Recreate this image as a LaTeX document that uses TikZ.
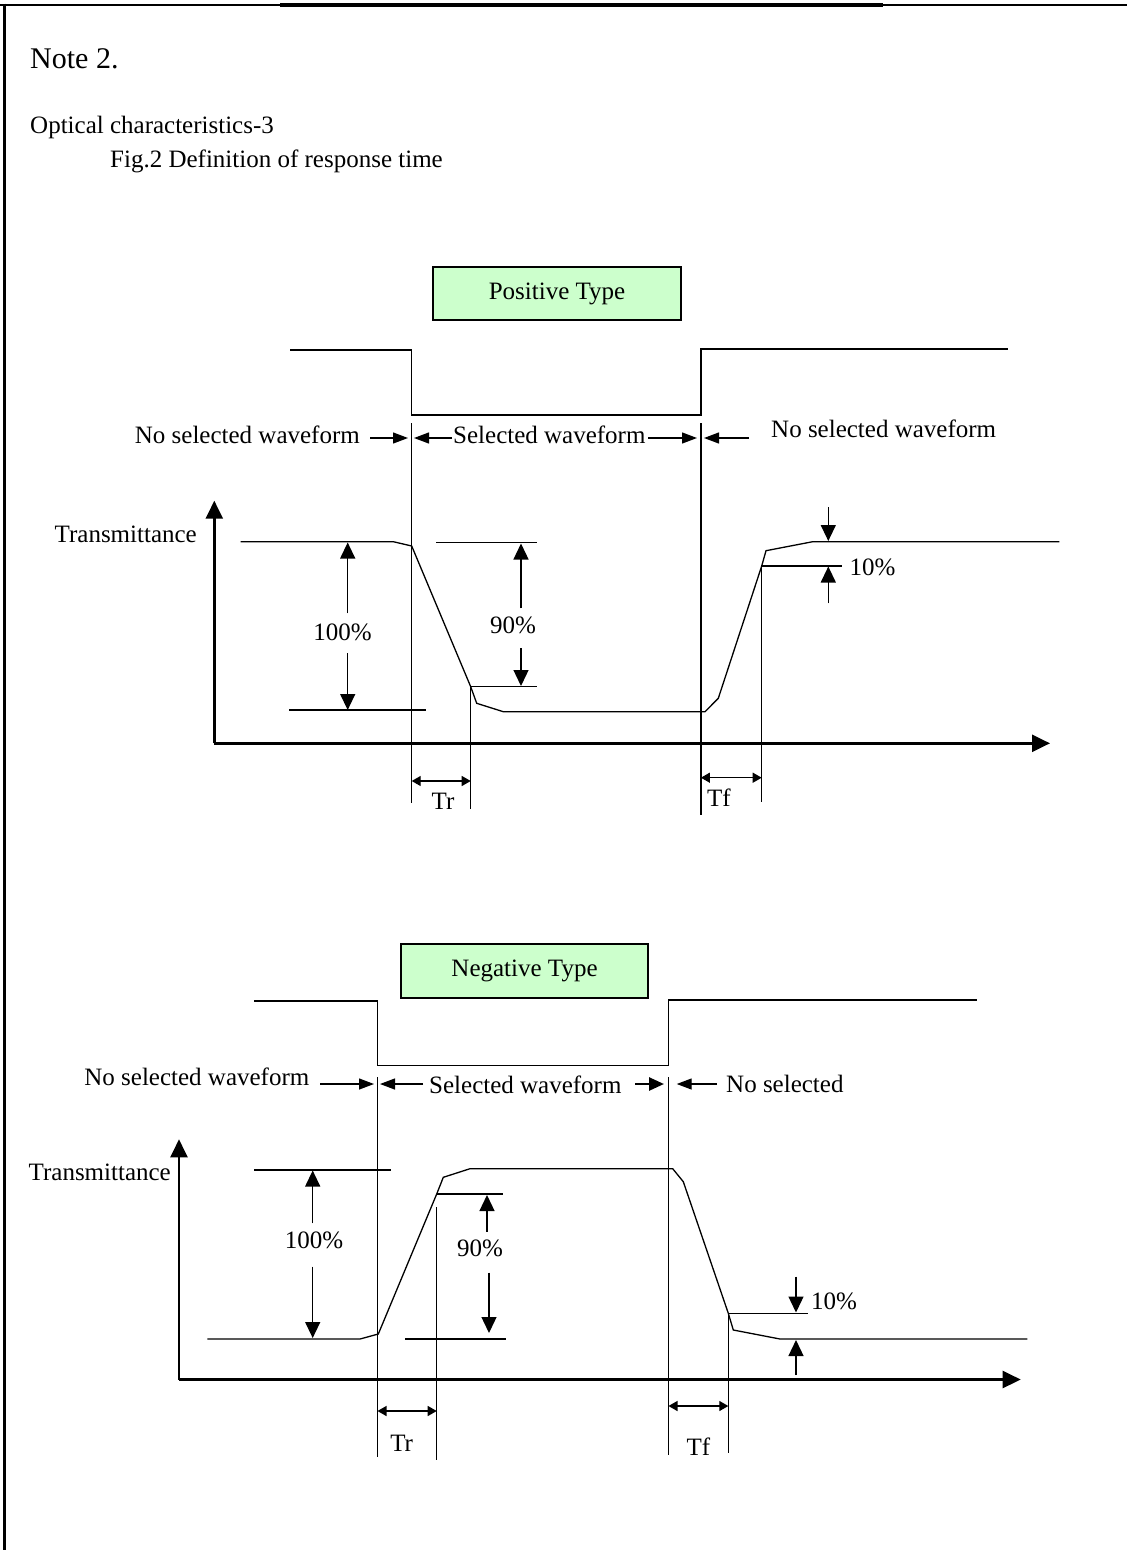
\documentclass[tikz,border=0pt]{standalone}
\usepackage{fontspec}
\setmainfont{Liberation Serif}
\usetikzlibrary{arrows.meta}
\definecolor{boxgreen}{HTML}{CCFFCC}
\begin{document}
\begin{tikzpicture}[x=1pt,y=-1pt,
  thinline/.style={line width=1.3pt},
  axisline/.style={line width=2.4pt,-{Triangle[length=18pt,width=17pt]}},
  dimarrow/.style={line width=1.3pt,-{Triangle[length=16pt,width=15pt]}},
  lblarrow/.style={line width=1.3pt,-{Triangle[length=15pt,width=11pt]}},
  boldlblarrow/.style={line width=2.6pt,-{Triangle[length=15pt,width=13pt]}},
  timearrow/.style={line width=1.3pt,{Triangle[length=9pt,width=10pt]}-{Triangle[length=9pt,width=10pt]}},
  typebox/.style={draw,line width=2.4pt,fill=boxgreen,inner sep=0pt,font=\fontsize{25}{30}\selectfont},
  lbl/.style={inner sep=0pt,font=\fontsize{25}{30}\selectfont},
  bigLbl/.style={inner sep=0pt,font=\fontsize{30}{36}\selectfont},
]
\path[use as bounding box] (0,0) rectangle (1127,1550);
% page frame
\draw[line width=2.6pt] (0,5) -- (1127,5);
\draw[line width=3.4pt] (280,5) -- (883,5);
\draw[line width=3pt] (4.5,3.5) -- (4.5,1550);

% header
\node[bigLbl,anchor=base west] (note) at (30,68) {Note 2.};
\node[lbl,anchor=base west] (optic) at (30,133) {Optical characteristics-3};
\node[lbl,anchor=base west] (fig) at (110,167) {Fig.2 Definition of response time};

% ================= Positive type =================
\node[typebox,minimum width=248pt,minimum height=53pt] (pbox) at (557,293.5) {Positive Type};

% select signal
\coordinate (ps1) at (290,350);
\coordinate (ps2) at (411.7,350);
\coordinate (ps3) at (411.7,415);
\coordinate (ps4) at (700.9,415);
\coordinate (ps5) at (700.9,349);
\coordinate (ps6) at (1008,349);
\draw[thinline] (ps1) -- (ps2) -- (ps3) -- (ps4) -- (ps5) -- (ps6);

% labels row
\node[lbl,anchor=base east] (pnl) at (360,443) {No selected waveform};
\node[lbl,anchor=base west] (psel) at (453,443) {Selected waveform};
\node[lbl,anchor=base west] (pnr) at (771,437) {No selected waveform};
\coordinate (pa1) at (370,438);   \coordinate (pa1t) at (408,438);
\coordinate (pa2) at (452,438);   \coordinate (pa2t) at (414,438);
\coordinate (pa3) at (648,438);   \coordinate (pa3t) at (697,438);
\coordinate (pa4) at (749,438);   \coordinate (pa4t) at (704,438);
\draw[lblarrow] (pa1) -- (pa1t);
\draw[lblarrow] (pa2) -- (pa2t);
\draw[lblarrow] (pa3) -- (pa3t);
\draw[lblarrow] (pa4) -- (pa4t);

% vertical guides
\coordinate (pv1a) at (411.7,423); \coordinate (pv1b) at (411.7,803);
\coordinate (pv2a) at (470.7,686.7); \coordinate (pv2b) at (470.7,809);
\coordinate (pv3a) at (700.9,423); \coordinate (pv3b) at (700.9,815);
\coordinate (pv4a) at (761.7,566); \coordinate (pv4b) at (761.7,802);
\draw[thinline] (pv1a) -- (pv1b);
\draw[thinline] (pv2a) -- (pv2b);
\draw[thinline] (pv3a) -- (pv3b);
\draw[thinline] (pv4a) -- (pv4b);

% axes
\coordinate (porig) at (214.3,743.3);
\coordinate (pytip) at (214.3,500.7);
\coordinate (pxtip) at (1050,743.3);
\draw[axisline] (porig) -- (pytip);
\draw[axisline] (porig) -- (pxtip);
\node[lbl,anchor=base east] (ptrans) at (197,542) {Transmittance};

% response curve
\draw[thinline] (240.7,541.7) -- (393.3,541.7) -- (411.7,546) -- (pv2a) -- (476.7,703.3)
  -- (503.3,711.7) -- (705,711.7) -- (718.3,698.3) -- (pv4a) -- (766,550.7)
  -- (812.7,541.7) -- (1059.3,541.7);

% dimension lines
\coordinate (pd1a) at (289.3,710); \coordinate (pd1b) at (425.7,710);
\coordinate (pd2a) at (436,542.7); \coordinate (pd2b) at (536.7,542.7);
\coordinate (pd3b) at (536.7,686.7);
\coordinate (pd4b) at (841.7,566);
\draw[thinline] (pd1a) -- (pd1b);
\draw[thinline] (pd2a) -- (pd2b);
\draw[thinline] (pv2a) -- (pd3b);
\draw[thinline] (pv4a) -- (pd4b);

% 100%
\node[lbl] (p100) at (342.5,632) {100\%};
\draw[dimarrow] (347.7,613.3) -- (347.7,542.5);
\draw[dimarrow] (347.7,653.3) -- (347.7,710);
% 90%
\node[lbl] (p90) at (513,625) {90\%};
\draw[dimarrow] (521,608.3) -- (521,543.5);
\draw[dimarrow] (521,648.3) -- (521,686);
% 10%
\node[lbl] (p10) at (872.5,567) {10\%};
\draw[dimarrow] (828.3,507.3) -- (828.3,541);
\draw[dimarrow] (828.3,603.3) -- (828.3,566.5);

% Tr / Tf
\draw[timearrow] (411.7,781) -- (470.7,781);
\node[lbl] (ptr) at (443,801.5) {Tr};
\draw[timearrow] (700.9,777.7) -- (761.7,777.7);
\node[lbl] (ptf) at (719,798) {Tf};

% ================= Negative type =================
\node[typebox,minimum width=247pt,minimum height=54pt] (nbox) at (524.5,971) {Negative Type};

\coordinate (ns1) at (254,1001);
\coordinate (ns2) at (377.5,1001);
\coordinate (ns3) at (377.5,1065.7);
\coordinate (ns4) at (668.5,1065.7);
\coordinate (ns5) at (668.5,1000);
\coordinate (ns6) at (976.7,1000);
\draw[thinline] (ns1) -- (ns2) -- (ns3) -- (ns4) -- (ns5) -- (ns6);

\node[lbl,anchor=base east] (nnl) at (309.5,1085) {No selected waveform};
\node[lbl,anchor=base west] (nsel) at (429,1093) {Selected waveform};
\node[lbl,anchor=base west] (nnr) at (726,1092) {No selected};
\coordinate (na1) at (320,1084);  \coordinate (na1t) at (374,1084);
\coordinate (na2) at (423,1084);  \coordinate (na2t) at (380,1084);
\coordinate (na3) at (635,1084);  \coordinate (na3t) at (664,1084);
\coordinate (na4) at (717,1084);  \coordinate (na4t) at (676.7,1084);
\draw[lblarrow] (na1) -- (na1t);
\draw[lblarrow] (na2) -- (na2t);
\draw[boldlblarrow] (na3) -- (na3t);
\draw[lblarrow] (na4) -- (na4t);

\coordinate (nv1a) at (377.5,1077); \coordinate (nv1b) at (377.5,1457);
\coordinate (nv2a) at (436.7,1207); \coordinate (nv2b) at (436.7,1460);
\coordinate (nv3a) at (668.5,1077); \coordinate (nv3b) at (668.5,1455);
\coordinate (nv4a) at (728.3,1313.3); \coordinate (nv4b) at (728.3,1453);
\draw[thinline] (nv1a) -- (nv1b);
\draw[thinline] (nv2a) -- (nv2b);
\draw[thinline] (nv3a) -- (nv3b);
\draw[thinline] (nv4a) -- (nv4b);

\coordinate (norig) at (179,1379.5);
\coordinate (nytip) at (179,1139.3);
\coordinate (nxtip) at (1020.7,1379.5);
\draw[axisline] (norig) -- (nytip);
\draw[axisline] (norig) -- (nxtip);
\node[lbl,anchor=base east] (ntrans) at (171,1180) {Transmittance};

\coordinate (nk90) at (436.7,1194);
\draw[thinline] (207.3,1339) -- (360,1339) -- (378.3,1334) -- (nk90) -- (443.3,1177.3)
  -- (470,1168.7) -- (672.7,1168.7) -- (683.3,1181.7) -- (nv4a) -- (733.3,1330)
  -- (780,1339) -- (1027.3,1339);

\coordinate (nd1a) at (254,1170); \coordinate (nd1b) at (391,1170);
\coordinate (nd2b) at (502.7,1194);
\coordinate (nd3a) at (405,1339); \coordinate (nd3b) at (505.7,1339);
\coordinate (nd4b) at (808.3,1313.3);
\draw[thinline] (nd1a) -- (nd1b);
\draw[thinline] (nk90) -- (nd2b);
\draw[thinline] (nd3a) -- (nd3b);
\draw[thinline] (nv4a) -- (nd4b);

\node[lbl] (n100) at (314,1240) {100\%};
\draw[dimarrow] (312.7,1223.3) -- (312.7,1170.5);
\draw[dimarrow] (312.7,1266.7) -- (312.7,1338);
\node[lbl] (n90) at (480,1248) {90\%};
\draw[dimarrow] (487,1231.7) -- (487,1195);
\draw[dimarrow] (489,1272.7) -- (489,1333);
\node[lbl] (n10) at (834,1301.7) {10\%};
\draw[dimarrow] (796,1276.7) -- (796,1312.5);
\draw[dimarrow] (796,1375) -- (796,1340);

\draw[timearrow] (377.5,1411) -- (436.7,1411);
\node[lbl] (ntr) at (401.7,1443.3) {Tr};
\draw[timearrow] (668.5,1406) -- (728.3,1406);
\node[lbl] (ntf) at (698.5,1446.7) {Tf};
\end{tikzpicture}
\end{document}
